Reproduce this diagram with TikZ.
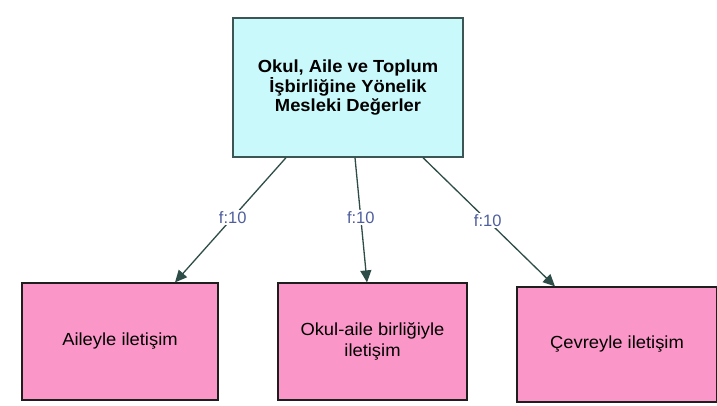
\documentclass[tikz,border=0pt]{standalone}
\usepackage{fontspec}
\setmainfont{Liberation Sans}
\newfontfamily\boxfont[FakeStretch=1.05]{Liberation Sans}
\usetikzlibrary{arrows.meta}
\definecolor{topfill}{HTML}{C9F9FB}
\definecolor{topline}{HTML}{3C5555}
\definecolor{leaffill}{HTML}{FB96C8}
\definecolor{leafline}{HTML}{1E1E1E}
\definecolor{arrowcol}{HTML}{2F4D48}
\definecolor{labelcol}{HTML}{4F5E9E}
\tikzset{
  rootbox/.style={draw=topline, line width=1.4pt, fill=topfill, align=center,
    inner sep=0pt, font=\boxfont\fontsize{17.5}{18.5}\selectfont\bfseries},
  leafbox/.style={draw=leafline, line width=1.2pt, fill=leaffill, align=center,
    inner sep=0pt, font=\boxfont\fontsize{17.5}{20.5}\selectfont},
  arr/.style={draw=arrowcol, line width=1.3pt, -{Triangle[length=12pt,width=11pt]}},
  flabel/.style={fill=white, text=labelcol, inner sep=1.5pt, font=\fontsize{16.5}{18}\selectfont}
}
\begin{document}
\begin{tikzpicture}[x=1pt,y=1pt]
  \useasboundingbox (0,0) rectangle (717,406);
  \fill[white] (0,0) rectangle (717,406);

  \node[rootbox, minimum width=230pt, minimum height=139pt] (top) at (348,318.5)
    {Okul, Aile ve Toplum\\İşbirliğine Yönelik\\Mesleki Değerler};

  \node[leafbox, minimum width=196pt, minimum height=117pt] (b1) at (120,64.5)
    {Aileyle iletişim};
  \node[leafbox, minimum width=189pt, minimum height=117pt] (b2) at (372.5,64.5)
    {Okul-aile birliğiyle\\iletişim};
  \node[leafbox, minimum width=200pt, minimum height=115pt] (b3) at (617,61.5)
    {Çevreyle iletişim};

  \draw[arr] ([xshift=-62pt]top.south) -- node[flabel, pos=0.48] (l1) {f:10} ([xshift=55pt]b1.north);
  \draw[arr] ([xshift=7pt]top.south) -- node[flabel, pos=0.48] (l2) {f:10} ([xshift=-5.5pt]b2.north);
  \draw[arr] ([xshift=75pt]top.south) -- node[flabel, pos=0.49] (l3) {f:10} ([xshift=-62pt]b3.north);
\end{tikzpicture}
\end{document}
